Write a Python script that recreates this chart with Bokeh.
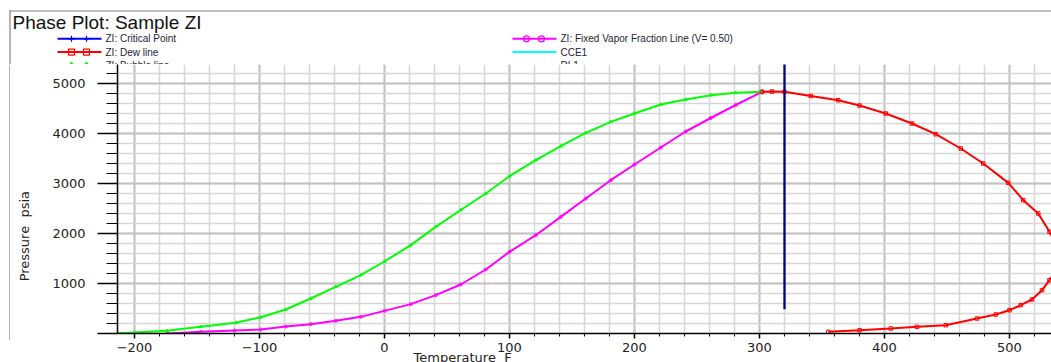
from bokeh.plotting import figure
from bokeh.layouts import column, row
from bokeh.models import Range1d, SingleIntervalTicker, CustomJSTickFormatter
from bokeh.core.properties import value
from bokeh.embed import file_html
from bokeh.resources import INLINE

# ---- phase envelope data (temperature in F, pressure in psia) ----
bubble_temp = [-214, -200, -174, -147, -119, -99, -79, -59, -39, -19, 0, 21, 41, 61,
               81, 100, 121, 141, 161, 181, 200, 221, 241, 261, 281, 302]
bubble_pres = [5, 20, 55, 133, 213, 325, 480, 700, 933, 1167, 1440, 1767, 2133, 2470,
               2800, 3146, 3466, 3746, 4013, 4233, 4400, 4580, 4680, 4766, 4813, 4833]

vapor_temp = [-174, -147, -120, -99, -79, -59, -39, -19, 0, 21, 41, 61, 81, 100,
              121, 141, 161, 181, 200, 221, 241, 261, 281, 302]
vapor_pres = [0, 33, 60, 80, 140, 187, 253, 333, 453, 587, 767, 980, 1280, 1633,
              1966, 2333, 2700, 3066, 3380, 3720, 4040, 4310, 4570, 4833]

dew_temp = [302, 310, 320, 341, 363, 380, 401, 422, 441, 461, 479, 499, 511, 523, 532,
            537, 540, 537, 532, 526, 518, 509, 500, 489, 474, 449, 426, 405, 380, 355]
dew_pres = [4833, 4840, 4835, 4750, 4666, 4560, 4400, 4200, 3986, 3700, 3400, 3013, 2667,
            2400, 2033, 1800, 1500, 1250, 1067, 867, 680, 566, 466, 380, 300, 166, 133,
            100, 65, 33]

critical_temp = [302]
critical_pres = [4833]

cce_temp = [320, 320]
cce_pres = [485, 5500]

# ---- legend entries ----
legend_labels = ["ZI: Critical Point", "ZI: Dew line", "ZI: Bubble line",
                 "ZI: Fixed Vapor Fraction Line (V= 0.50)", "CCE1", "DL1"]
legend_colors = ["#0000ff", "#ff0000", "#00ff00", "#ff00ff", "#00ffff", "#800000"]
legend_markers = ["cross", "square", "triangle", "circle", None, None]
legend_filled = [False, False, True, False, False, False]

x_title = "Temperature\u00a0\u00a0F"
y_title = "Pressure\u00a0\u00a0psia"

FONT = value("Liberation Sans")
TICK_FONT = "DejaVu Sans"
BORDER = "#808080"
NBSP = "\u00a0"

# ---- header: title, legend and frame border ----
head = figure(width=1051, height=64, x_range=Range1d(0, 1051), y_range=Range1d(64, 0),
              x_axis_location=None, y_axis_location=None, min_border=0,
              output_backend="svg", toolbar_location=None, outline_line_color=None)
head.grid.visible = False
head.segment(x0=[9], y0=[10.5], x1=[1051], y1=[10.5], line_color=BORDER, line_width=1.2)
head.segment(x0=[9.5], y0=[10], x1=[9.5], y1=[64], line_color=BORDER, line_width=1.2)
head.text(x=[12], y=[21.5], text=["Phase Plot: Sample ZI"], text_font=FONT,
          text_font_size="19px", text_baseline="middle", text_color="#111111")

col_x = [57, 512]
row_y = [38.3, 51.6, 64.9]
for i, (lab, col, mk, filled) in enumerate(zip(legend_labels, legend_colors,
                                               legend_markers, legend_filled)):
    cx = col_x[i // 3]
    cy = row_y[i % 3]
    head.segment(x0=[cx], y0=[cy], x1=[cx + 44], y1=[cy], line_color=col, line_width=2)
    if mk is not None:
        head.scatter(x=[cx + 14, cx + 29], y=[cy, cy], marker=mk, size=6,
                     line_color=col, line_width=1.2,
                     fill_color=col if filled else None)
    head.text(x=[cx + 48], y=[cy], text=[lab], text_font=FONT, text_font_size="10px",
              text_baseline="middle", text_color="#222233")

# ---- left border strip ----
strip = figure(width=10, height=310, x_range=Range1d(0, 10), y_range=Range1d(0, 310),
               x_axis_location=None, y_axis_location=None, min_border=0,
               output_backend="svg", toolbar_location=None, outline_line_color=None)
strip.grid.visible = False
strip.segment(x0=[9.5], y0=[0], x1=[9.5], y1=[310], line_color=BORDER, line_width=1.2)

# ---- main phase plot ----
p = figure(frame_width=934, frame_height=269,
           x_range=Range1d(-213.6, 533.6), y_range=Range1d(0, 5380),
           min_border_left=107, min_border_right=0, min_border_top=0, min_border_bottom=0,
           output_backend="svg", toolbar_location=None, outline_line_color=None,
           background_fill_color="white", border_fill_color="white")

xt = SingleIntervalTicker(interval=100, num_minor_ticks=5)
yt = SingleIntervalTicker(interval=1000, num_minor_ticks=5)
p.xaxis.ticker = xt
p.xgrid.ticker = xt
p.yaxis.ticker = yt
p.ygrid.ticker = yt

for g in (p.xgrid, p.ygrid):
    g.grid_line_color = "#c2c2c2"
    g.grid_line_width = 2
    g.minor_grid_line_color = "#d6d6d6"
    g.minor_grid_line_width = 1.5

p.xaxis.formatter = CustomJSTickFormatter(
    code='return tick < 0 ? "\\u2212" + Math.abs(tick) : String(tick);')
p.yaxis.formatter = CustomJSTickFormatter(code='return tick == 0 ? "" : String(tick);')

for ax in (p.xaxis, p.yaxis):
    ax.axis_line_color = "black"
    ax.axis_line_width = 1.5
    ax.major_tick_line_color = "black"
    ax.major_tick_line_width = 1.5
    ax.minor_tick_line_color = "black"
    ax.minor_tick_line_width = 1
    ax.major_tick_in = 0
    ax.minor_tick_in = 0
    ax.major_label_text_font = TICK_FONT
    ax.major_label_text_font_size = "13px"
    ax.major_label_text_color = "#222222"
    ax.axis_label_text_font = TICK_FONT
    ax.axis_label_text_font_size = "13px"
    ax.axis_label_text_font_style = "normal"
    ax.axis_label_text_color = "#222222"

p.yaxis.major_tick_out = 20
p.yaxis.minor_tick_out = 11
p.yaxis.major_label_standoff = 12
p.xaxis.major_tick_out = 5
p.xaxis.minor_tick_out = 3
p.xaxis.major_label_standoff = 4

# axis titles; trailing blanks set them off-centre along the frame
p.xaxis.axis_label = x_title + NBSP * 59
p.xaxis.axis_label_standoff = -5
p.yaxis.axis_label = y_title + NBSP * 18
p.yaxis.axis_label_standoff = 17

# curves
p.scatter(critical_temp, critical_pres, marker="cross", size=5, line_color="#0000ff")
p.line(vapor_temp, vapor_pres, line_color="#ff00ff", line_width=2)
p.scatter(vapor_temp, vapor_pres, marker="circle", size=3, line_color="#ff00ff",
          fill_color=None)
p.line(bubble_temp, bubble_pres, line_color="#00ff00", line_width=2)
p.scatter(bubble_temp, bubble_pres, marker="triangle", size=3, line_color="#00ff00",
          fill_color="#00ff00")
p.line(dew_temp, dew_pres, line_color="#ff0000", line_width=2)
p.scatter(dew_temp, dew_pres, marker="square", size=3.5, line_color="#ff0000",
          fill_color=None)
p.line(cce_temp, cce_pres, line_color="#000080", line_width=2.3)

# the chart box is cropped at the window's bottom edge
layout = column(head, row(strip, p), width=1051, height=362,
                styles={"overflow": "hidden"})
open("out.html", "w", encoding="utf-8").write(file_html(layout, INLINE))
